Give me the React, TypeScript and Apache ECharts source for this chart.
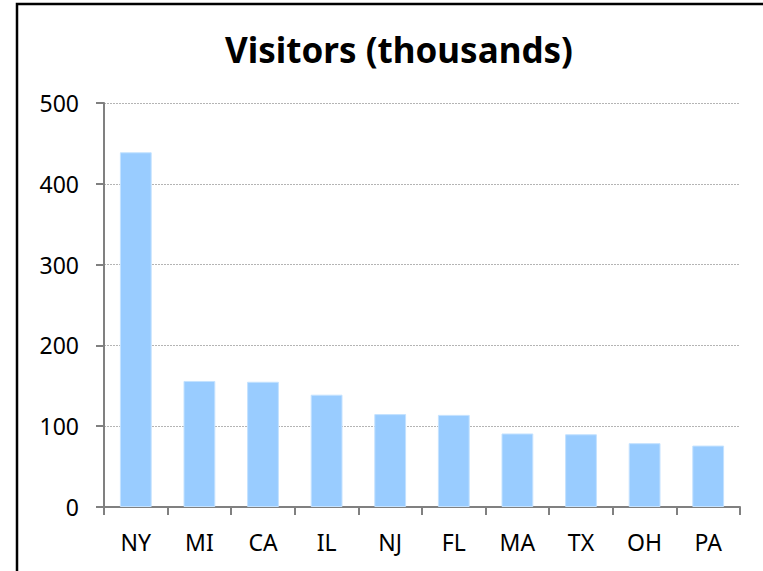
import React, { useEffect, useRef } from "react";
import * as echarts from "echarts";

const categories = ["NY", "MI", "CA", "IL", "NJ", "FL", "MA", "TX", "OH", "PA"];
const visitors = [439, 156, 155, 139, 115, 114, 91, 90, 79, 76];
const yTicks = { min: 0, max: 500, interval: 100 };

const FONT = "'Noto Sans', 'DejaVu Sans', sans-serif";

export default function App() {
  const ref = useRef<HTMLDivElement>(null);
  useEffect(() => {
    if (!ref.current) return;
    const chart = echarts.init(ref.current, null, { renderer: "svg" });
    chart.setOption({
      animation: false,
      backgroundColor: "#ffffff",
      title: {
        text: "Visitors (thousands)",
        left: 394,
        top: 27,
        textAlign: "center",
        textStyle: { fontFamily: FONT, fontWeight: "bold", fontSize: 35, color: "#000" },
      },
      graphic: [
        {
          type: "rect",
          shape: { x: 17, y: 4, width: 800, height: 620 },
          style: { fill: "none", stroke: "#000", lineWidth: 2.5 },
          silent: true,
        },
      ],
      grid: { left: 104, top: 103, right: 23, bottom: 64, containLabel: false },
      xAxis: {
        type: "category",
        data: categories,
        boundaryGap: true,
        axisLine: { lineStyle: { color: "#808080", width: 2 } },
        axisTick: { show: true, length: 8, lineStyle: { color: "#808080", width: 2 } },
        axisLabel: { fontFamily: FONT, fontSize: 23, color: "#000", margin: 23 },
        splitLine: { show: false },
      },
      yAxis: {
        type: "value",
        min: yTicks.min,
        max: yTicks.max,
        interval: yTicks.interval,
        axisLine: { show: true, lineStyle: { color: "#808080", width: 2 } },
        axisTick: { show: true, length: 8, lineStyle: { color: "#808080", width: 2 } },
        axisLabel: { fontFamily: FONT, fontSize: 23, color: "#000", margin: 25 },
        splitLine: { show: true, lineStyle: { color: "#b4b4b4", width: 1, type: [2, 1] } },
      },
      series: [
        {
          type: "bar",
          data: visitors,
          barWidth: "50%",
          itemStyle: { color: "#99CCFF", borderColor: "#c4e2ff", borderWidth: 1 },
        },
      ],
    });
    return () => chart.dispose();
  }, []);
  return (
    <div
      ref={ref}
      style={{ position: "fixed", left: 0, top: 0, width: 763, height: 571 }}
    />
  );
}
